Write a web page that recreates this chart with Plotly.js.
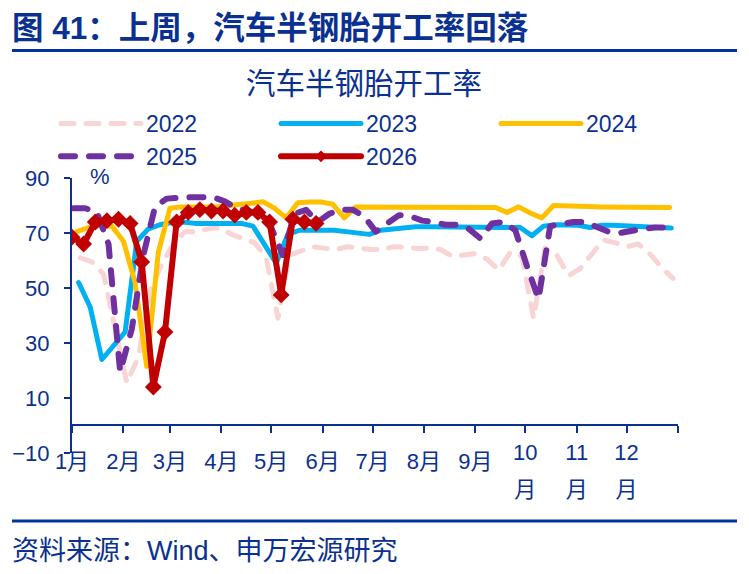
<!DOCTYPE html>
<html>
<head>
<meta charset="utf-8">
<script src="https://cdn.plot.ly/plotly-3.0.1.min.js"></script>
<style>
  html, body { margin: 0; padding: 0; background: #fff; }
  #chart { width: 749px; height: 574px; }
  .js-line { stroke-linecap: round; stroke-linejoin: round; }
</style>
</head>
<body>
<div id="chart"></div>
<script>
// ---------------- data ----------------
const years = ['2022', '2023', '2024', '2025', '2026'];
// first weekly observation (day of year, Thursday releases)
const startDay = [5, 4, 3, 1, 0];
const v2022 = [61, 59.5, 55, 36, 15.5, 25, 49, 58.5, 66, 70.5, 70.5, 71.5, 72, 69.5, 68, 66.5, 61, 39, 62, 63.5,
  65, 64.5, 64, 65, 64.5, 64, 64, 65, 64.8, 64.4, 64.5, 64, 61.5, 62, 62.5, 60.5, 56.5, 63, 61.5, 39,
  64.5, 62, 54.5, 57, 62.5, 67.5, 66.5, 65, 66, 62.5, 57.5, 53.5];
const v2023 = [52, 43, 24, 29, 34, 67, 71.5, 73, 73.8, 74, 73.5, 73.5, 73.5, 73.5, 73.5, 72.5, 66, 59, 69.5, 71,
  71, 71, 71, 70.5, 70, 69.5, 71, 71.5, 72, 72.3, 72.3, 72.3, 72.3, 72.3, 72.3, 72.3, 72.3, 72.3, 72, 69,
  72.5, 73, 73, 72.8, 72, 72.8, 72.8, 72.5, 72.5, 72.3, 72, 71.8];
const v2024 = [70.5, 72, 72.7, 72.5, 67, 52, 21.5, 63, 79, 79.5, 79.5, 79.5, 79.5, 80, 80.3, 80.8, 81.4, 79, 75.5, 81,
  81.3, 81.3, 80.5, 75.5, 79.5, 79.5, 79.5, 79.6, 79.6, 79.5, 79.5, 79.4, 79.4, 79.4, 79.3, 79.3, 79.3, 77.5, 79.5, 77.3,
  75.5, 80, 80, 79.8, 79.6, 79.5, 79.5, 79.4, 79.3, 79.3, 79.3, 79.3];
const v2025 = [79, 79, 77.5, 66, 19.5, 35, 62, 79.5, 82.5, 83, 83, 83, 83, 81.5, 79, 78, 77, 72, 62, 77,
  78.4, 74, 77, 78.5, 78.5, 76, 70.5, 73.5, 76.5, 76, 74.5, 74, 73, 73, 71.5, 68, 73.5, 74, 71, 58,
  46, 72.5, 73.5, 74, 74, 72.5, 70.5, 70, 71, 71.5, 72, 72];
const v2026 = [68.5, 66, 74, 74.5, 75, 73.5, 59.5, 14, 34, 74, 77.5, 78.5, 78, 78, 76.5, 77.5, 77.5, 74, 47.5, 75,
  74, 73.5];
const seriesValues = [v2022, v2023, v2024, v2025, v2026];

const monthStartDays = [0, 31, 59, 90, 120, 151, 181, 212, 243, 273, 304, 334, 365];
const monthLabels = ['1月', '2月', '3月', '4月', '5月', '6月', '7月', '8月', '9月', '', '', '', ''];
// the last three month labels are wrapped over two lines in the original
const lateMonthDays = [273, 304, 334];
const lateMonthNums = ['10', '11', '12'];
const lateMonthSuffix = ['月', '月', '月'];
const yTicks = [-10, 10, 30, 50, 70, 90];

const headerText = '图 41：上周，汽车半钢胎开工率回落';
const chartTitle = '汽车半钢胎开工率';
const unitText = '%';
const sourceText = '资料来源：Wind、申万宏源研究';

// ---------------- styles ----------------
const NAVY = '#0a3192';
const FONT = 'Liberation Sans, Arial, Noto Sans CJK SC, sans-serif';
const styles = [
  {color: '#f9d4d4', width: 5, dash: '13px,12px', marker: false},
  {color: '#00b0f0', width: 5, dash: 'solid', marker: false},
  {color: '#ffc000', width: 5, dash: 'solid', marker: false},
  {color: '#7030a0', width: 6, dash: '14px,14px', marker: false},
  {color: '#c00000', width: 6, dash: 'solid', marker: true}
];

// layout geometry (pixels)
const W = 749, H = 574;
const M = {l: 72, r: 71, t: 178, b: 121};
const PW = W - M.l - M.r, PH = H - M.t - M.b;
const px2x = p => (p - M.l) / PW;
const py2y = p => (H - M.b - p) / PH;

const traces = years.map((yr, k) => {
  const vals = seriesValues[k];
  const st = styles[k];
  const t = {
    type: 'scatter',
    mode: st.marker ? 'lines+markers' : 'lines',
    name: yr,
    x: vals.map((_, i) => startDay[k] + 7 * i),
    y: vals,
    line: {color: st.color, width: st.width, dash: st.dash},
    hoverinfo: 'skip'
  };
  if (st.marker) {
    t.marker = {symbol: 'diamond', size: 13, color: st.color};
    t.showlegend = false;
  }
  return t;
});
// legend entry for 2026 with the small diamond used in the original key
traces.push({
  type: 'scatter', mode: 'lines+markers', name: years[4],
  x: [null], y: [null],
  line: {color: styles[4].color, width: styles[4].width},
  marker: {symbol: 'diamond', size: 9, color: styles[4].color},
  hoverinfo: 'skip'
});

const axisCommon = {
  range: [0, 365],
  anchor: 'free', position: py2y(425),
  showgrid: false, zeroline: false,
  tickmode: 'array',
  tickfont: {family: FONT, size: 22, color: NAVY},
  fixedrange: true
};

const layout = {
  width: W, height: H,
  margin: M,
  paper_bgcolor: '#fff', plot_bgcolor: '#fff',
  font: {family: FONT, color: NAVY, size: 22},
  title: {
    text: chartTitle,
    font: {family: FONT, size: 29.5, color: NAVY},
    x: 361 / W, xanchor: 'center', xref: 'paper',
    y: 1 - 84 / H, yanchor: 'middle', yref: 'container'
  },
  showlegend: true,
  legend: {
    orientation: 'h',
    x: px2x(56), xanchor: 'left',
    y: py2y(102), yanchor: 'top',
    font: {family: FONT, size: 23, color: NAVY},
    itemwidth: 80,
    entrywidth: 125, entrywidthmode: 'pixels',
    bgcolor: 'rgba(0,0,0,0)',
    traceorder: 'normal'
  },
  xaxis: Object.assign({}, axisCommon, {
    showline: true, linecolor: NAVY, linewidth: 2,
    tickvals: monthStartDays, ticktext: monthLabels,
    ticks: 'outside', ticklen: 7, tickwidth: 2, tickcolor: NAVY,
    ticklabelstandoff: 10
  }),
  xaxis2: Object.assign({}, axisCommon, {
    overlaying: 'x', showline: false,
    tickvals: lateMonthDays, ticktext: lateMonthNums,
    ticks: 'outside', ticklen: 7, tickwidth: 1, tickcolor: 'rgba(0,0,0,0)',
    ticklabelstandoff: 1
  }),
  xaxis3: Object.assign({}, axisCommon, {
    overlaying: 'x', showline: false,
    tickvals: lateMonthDays, ticktext: lateMonthSuffix,
    ticks: 'outside', ticklen: 7, tickwidth: 1, tickcolor: 'rgba(0,0,0,0)',
    ticklabelstandoff: 38
  }),
  yaxis: {
    range: [-10, 90],
    showgrid: false, zeroline: false,
    showline: true, linecolor: NAVY, linewidth: 2,
    tickmode: 'array', tickvals: yTicks,
    ticks: 'outside', ticklen: 6, tickwidth: 2, tickcolor: NAVY,
    ticklabelstandoff: 10,
    tickfont: {family: FONT, size: 22, color: NAVY},
    fixedrange: true
  },
  shapes: [
    {type: 'line', xref: 'paper', yref: 'paper', x0: px2x(12), x1: px2x(737), y0: py2y(50.5), y1: py2y(50.5),
      line: {color: '#0033a0', width: 3}},
    {type: 'line', xref: 'paper', yref: 'paper', x0: px2x(12), x1: px2x(737), y0: py2y(521), y1: py2y(521),
      line: {color: '#0033a0', width: 3}}
  ],
  annotations: [
    {text: '<b>' + headerText + '</b>', xref: 'paper', yref: 'paper', x: px2x(10), y: py2y(28),
      xanchor: 'left', yanchor: 'middle', showarrow: false,
      font: {family: FONT, size: 31.5, color: NAVY}},
    {text: unitText, xref: 'paper', yref: 'paper', x: px2x(100), y: py2y(176),
      xanchor: 'center', yanchor: 'middle', showarrow: false,
      font: {family: FONT, size: 22, color: NAVY}},
    {text: sourceText, xref: 'paper', yref: 'paper', x: px2x(10), y: py2y(551),
      xanchor: 'left', yanchor: 'middle', showarrow: false,
      font: {family: FONT, size: 27, color: NAVY}}
  ]
};

// two empty helper traces so the overlaid label axes are drawn
traces.push({type: 'scatter', x: [null], y: [null], xaxis: 'x2', showlegend: false, hoverinfo: 'skip'});
traces.push({type: 'scatter', x: [null], y: [null], xaxis: 'x3', showlegend: false, hoverinfo: 'skip'});

Plotly.newPlot('chart', traces, layout, {displayModeBar: false, staticPlot: true});
</script>
</body>
</html>
